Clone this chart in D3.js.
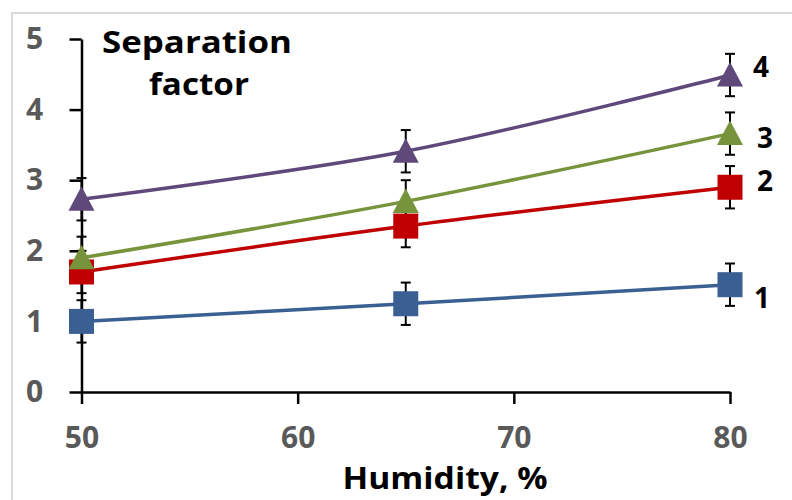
<!DOCTYPE html>
<html>
<head>
<meta charset="utf-8">
<script src="https://cdn.jsdelivr.net/npm/d3@7"></script>
<style>
  html, body { margin: 0; padding: 0; background: #fff; }
  svg { display: block; }
  text { font-family: "Open Sans", "DejaVu Sans", sans-serif; font-weight: bold; }
</style>
</head>
<body>
<svg id="chart" width="792" height="500"></svg>
<script>
// ---- data ----
const humidity = [50, 65, 80];
const series1 = [1.00, 1.25, 1.52];
const series2 = [1.70, 2.35, 2.90];
const series3 = [1.90, 2.70, 3.66];
const series4 = [2.73, 3.41, 4.49];
const errors1 = [0.30, 0.30, 0.30];
const errors2 = [0.30, 0.30, 0.30];
const errors3 = [0.30, 0.30, 0.30];
const errors4 = [0.30, 0.30, 0.30];
const seriesNames = ["1", "2", "3", "4"];
const xTicks = [50, 60, 70, 80];
const yTicks = [0, 1, 2, 3, 4, 5];
const yTitle = ["Separation", "factor"];
const xTitle = "Humidity, %";

const seriesList = [
  { name: seriesNames[0], values: series1, errs: errors1, color: "#3A5F92", marker: "square" },
  { name: seriesNames[1], values: series2, errs: errors2, color: "#C00000", marker: "square" },
  { name: seriesNames[2], values: series3, errs: errors3, color: "#77933C", marker: "triangle" },
  { name: seriesNames[3], values: series4, errs: errors4, color: "#5F497A", marker: "triangle" }
];

const svg = d3.select("#chart");

// frame
svg.append("path")
  .attr("d", "M12,500 V13 H792")
  .attr("fill", "none")
  .attr("stroke", "#d9d9d9")
  .attr("stroke-width", 2);

const x = d3.scaleLinear().domain([50, 80]).range([81.5, 730]);
const y = d3.scaleLinear().domain([0, 5]).range([392, 39]);

// axes
const gx = svg.append("g").attr("transform", `translate(0,${y(0)})`)
  .call(d3.axisBottom(x).tickValues(xTicks).tickSize(12).tickSizeOuter(0).tickPadding(23).tickFormat(d3.format("d")));
const gy = svg.append("g").attr("transform", `translate(${x(50)},0)`)
  .call(d3.axisLeft(y).tickValues(yTicks).tickSize(12).tickSizeOuter(0).tickPadding(26).tickFormat(d3.format("d")));

[gx, gy].forEach(g => {
  g.select(".domain").attr("stroke", "#000").attr("stroke-width", 2.5);
  g.selectAll(".tick line").attr("stroke", "#000").attr("stroke-width", 2.5);
  g.selectAll(".tick text")
    .attr("fill", "#595959")
    .style("font-size", "30px")
    .style("font-family", "'Open Sans', sans-serif")
    .style("font-weight", "bold");
});
gy.selectAll(".tick text").attr("text-anchor", "middle").attr("x", -47);

// lines
const line = d3.line()
  .x((d, i) => x(humidity[i]))
  .y(d => y(d))
  .curve(d3.curveCatmullRom.alpha(0.5));

seriesList.forEach(s => {
  svg.append("path")
    .datum(s.values)
    .attr("d", line)
    .attr("fill", "none")
    .attr("stroke", s.color)
    .attr("stroke-width", 3.5)
    .attr("stroke-linejoin", "round");
});

// error bars
seriesList.forEach(s => {
  const g = svg.append("g").attr("stroke", "#000").attr("stroke-width", 2);
  s.values.forEach((v, i) => {
    const cx = x(humidity[i]);
    const y1 = y(v + s.errs[i]), y2 = y(v - s.errs[i]);
    g.append("line").attr("x1", cx).attr("x2", cx).attr("y1", y1).attr("y2", y2);
    g.append("line").attr("x1", cx - 5).attr("x2", cx + 5).attr("y1", y1).attr("y2", y1);
    g.append("line").attr("x1", cx - 5).attr("x2", cx + 5).attr("y1", y2).attr("y2", y2);
  });
});

// markers
seriesList.forEach(s => {
  s.values.forEach((v, i) => {
    const cx = x(humidity[i]), cy = y(v);
    if (s.marker === "square") {
      svg.append("rect")
        .attr("x", cx - 12.5).attr("y", cy - 12.5)
        .attr("width", 25).attr("height", 25)
        .attr("fill", s.color);
    } else {
      svg.append("path")
        .attr("d", `M${cx},${cy - 13} L${cx + 13},${cy + 11.5} L${cx - 13},${cy + 11.5} Z`)
        .attr("fill", s.color);
    }
  });
});

// series labels
const labelPos = [[762, 308], [765, 191], [765, 148], [761, 77]];
seriesList.forEach((s, k) => {
  svg.append("text")
    .attr("x", labelPos[k][0]).attr("y", labelPos[k][1])
    .attr("text-anchor", "middle")
    .attr("fill", "#000")
    .style("font-size", "28px")
    .text(s.name);
});

// y title (inside plot)
svg.append("text")
  .attr("x", 197).attr("y", 53)
  .attr("text-anchor", "middle")
  .attr("fill", "#000")
  .style("font-size", "30px")
  .attr("textLength", 190).attr("lengthAdjust", "spacingAndGlyphs")
  .text(yTitle[0]);
svg.append("text")
  .attr("x", 199).attr("y", 95)
  .attr("text-anchor", "middle")
  .attr("fill", "#000")
  .style("font-size", "30px")
  .attr("textLength", 100).attr("lengthAdjust", "spacingAndGlyphs")
  .text(yTitle[1]);

// x title
svg.append("text")
  .attr("x", 445).attr("y", 489)
  .attr("text-anchor", "middle")
  .attr("fill", "#000")
  .style("font-size", "30px")
  .attr("textLength", 205).attr("lengthAdjust", "spacingAndGlyphs")
  .text(xTitle);
</script>
</body>
</html>
